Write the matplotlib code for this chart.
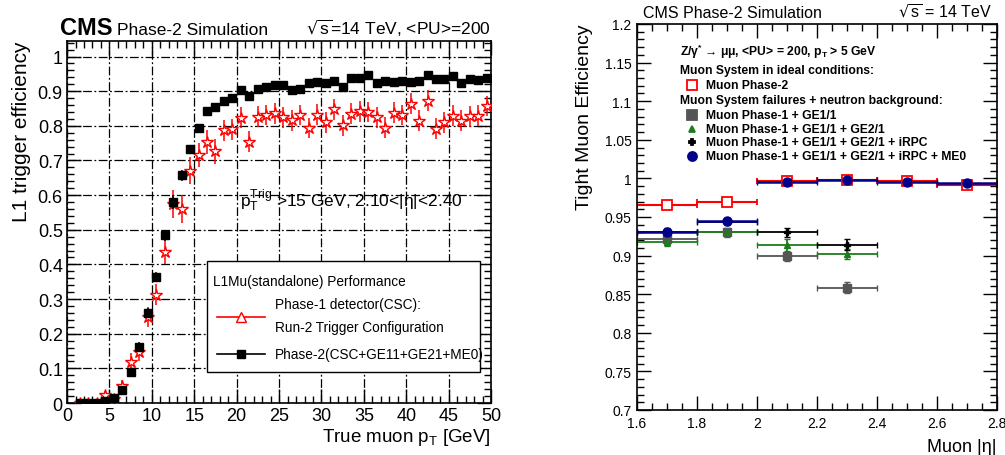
import matplotlib
matplotlib.use("Agg")
import matplotlib.pyplot as plt
import numpy as np
from matplotlib.ticker import MultipleLocator, FuncFormatter
from matplotlib.patches import Rectangle
from matplotlib.lines import Line2D

plt.rcParams['font.family'] = ['Liberation Sans', 'DejaVu Sans']
plt.rcParams['mathtext.default'] = 'regular'

# left panel: L1 trigger efficiency vs true muon pT (1 GeV bins)
pt = np.arange(1.5, 50, 1.0)
phase2_eff = [0.0, 0.0, 0.0, 0.005, 0.015, 0.037, 0.09, 0.163, 0.26, 0.363,
              0.484, 0.58, 0.657, 0.732, 0.794, 0.842, 0.853, 0.873, 0.88, 0.902,
              0.886, 0.906, 0.913, 0.919, 0.919, 0.904, 0.907, 0.925, 0.927, 0.924,
              0.929, 0.911, 0.937, 0.938, 0.948, 0.925, 0.930, 0.927, 0.930, 0.927,
              0.930, 0.946, 0.934, 0.935, 0.943, 0.924, 0.935, 0.933, 0.939]
phase2_err = [0.003, 0.003, 0.003, 0.005, 0.006, 0.008, 0.01, 0.012, 0.015, 0.015,
              0.015, 0.02, 0.015, 0.012, 0.01, 0.01, 0.008, 0.008, 0.008, 0.008,
              0.008, 0.008, 0.008, 0.008, 0.008, 0.008, 0.008, 0.008, 0.008, 0.008,
              0.008, 0.008, 0.008, 0.008, 0.008, 0.008, 0.008, 0.008, 0.008, 0.008,
              0.008, 0.008, 0.008, 0.008, 0.008, 0.008, 0.008, 0.008, 0.008]
run2_eff = [0.0, 0.0, 0.0, 0.022, 0.012, 0.05, 0.118, 0.147, 0.248, 0.313,
            0.436, 0.575, 0.56, 0.671, 0.716, 0.753, 0.726, 0.787, 0.79, 0.824,
            0.754, 0.826, 0.831, 0.836, 0.825, 0.816, 0.831, 0.794, 0.832, 0.81,
            0.848, 0.802, 0.835, 0.842, 0.84, 0.825, 0.795, 0.838, 0.831, 0.864,
            0.815, 0.872, 0.792, 0.81, 0.829, 0.815, 0.828, 0.829, 0.857]
run2_err = [0.003, 0.003, 0.003, 0.012, 0.01, 0.015, 0.025, 0.025, 0.03, 0.03,
            0.035, 0.04, 0.04, 0.04, 0.035, 0.035, 0.035, 0.03, 0.03, 0.03,
            0.03, 0.03, 0.03, 0.03, 0.03, 0.03, 0.03, 0.03, 0.03, 0.03,
            0.03, 0.03, 0.03, 0.03, 0.03, 0.03, 0.03, 0.03, 0.03, 0.03,
            0.03, 0.03, 0.03, 0.03, 0.03, 0.03, 0.03, 0.03, 0.03]

# right panel: tight muon efficiency vs |eta| (0.2 bins)
eta = [1.7, 1.9, 2.1, 2.3, 2.5, 2.7]
eta_half = 0.1
mu_phase2 = [0.9658, 0.969, 0.997, 0.998, 0.996, 0.9915]
mu_phase2_err = [0.002, 0.002, 0.001, 0.001, 0.001, 0.001]
mu_me0 = [0.931, 0.945, 0.9947, 0.998, 0.9947, 0.9934]
mu_me0_err = [0.004, 0.004, 0.002, 0.001, 0.002, 0.002]
mu_irpc = [0.931, 0.944, 0.930, 0.914]
mu_irpc_err = [0.005, 0.005, 0.006, 0.007]
mu_ge21 = [0.918, 0.930, 0.914, 0.902]
mu_ge21_err = [0.005, 0.005, 0.008, 0.007]
mu_ge11 = [0.921, 0.930, 0.899, 0.8586]
mu_ge11_err = [0.006, 0.006, 0.006, 0.007]

fig = plt.figure(figsize=(10.05, 4.56), dpi=100)
ax1 = fig.add_axes([0.0667, 0.114, 0.422, 0.794])
ax2 = fig.add_axes([0.6338, 0.0987, 0.3582, 0.8465])

# ---- left
ax1.set_axisbelow(True)
ax1.grid(True, which='major', color='black', lw=0.9, linestyle=(0, (7, 2, 1.5, 2)))
ax1.errorbar(pt, run2_eff, yerr=run2_err, fmt='*', color='red', mfc='white', mec='red',
             ms=9, mew=1.0, elinewidth=1.1, capsize=0, zorder=3)
ax1.errorbar(pt, phase2_eff, yerr=phase2_err, fmt='s', color='black', ms=6,
             elinewidth=1.1, capsize=0, zorder=4)
ax1.set_xlim(0, 50)
ax1.set_ylim(0, 1.045)
ax1.xaxis.set_major_locator(MultipleLocator(5))
ax1.xaxis.set_minor_locator(MultipleLocator(1))
ax1.yaxis.set_major_locator(MultipleLocator(0.1))
ax1.yaxis.set_minor_locator(MultipleLocator(0.02))
ax1.yaxis.set_major_formatter(FuncFormatter(lambda v, p: f'{v:g}'))
ax1.tick_params(which='both', direction='in', top=True, right=True, width=1.0)
ax1.tick_params(which='major', length=10, labelsize=13, pad=3)
ax1.tick_params(which='minor', length=5)
for s in ax1.spines.values():
    s.set_linewidth(1.2)
ax1.set_xlabel('True muon $p_{T}$ [GeV]', loc='right', fontsize=13.5, labelpad=1)
ax1.set_ylabel('L1 trigger efficiency', loc='top', fontsize=15, labelpad=5)
ax1.text(0.408, 0.544, '$p_{T}^{Trig}$ >15 GeV, 2.10<|η|<2.40', transform=ax1.transAxes,
         fontsize=12.5, va='baseline')

ax1.add_patch(Rectangle((0.330, 0.0856), 0.644, 0.306, transform=ax1.transAxes,
                        facecolor='white', edgecolor='black', lw=1.0, zorder=5))
ax1.text(0.344, 0.337, 'L1Mu(standalone) Performance', transform=ax1.transAxes,
         fontsize=9.8, va='center', zorder=6)
ax1.add_line(Line2D([0.354, 0.467], [0.238, 0.238], transform=ax1.transAxes, color='red',
                    lw=1.2, zorder=6))
ax1.add_line(Line2D([0.41], [0.238], transform=ax1.transAxes, marker='^', ms=7, mfc='white',
                    mec='red', zorder=6))
ax1.text(0.491, 0.273, 'Phase-1 detector(CSC):', transform=ax1.transAxes,
         fontsize=9.8, va='center', zorder=6)
ax1.text(0.491, 0.210, 'Run-2 Trigger Configuration', transform=ax1.transAxes,
         fontsize=9.8, va='center', zorder=6)
ax1.add_line(Line2D([0.354, 0.467], [0.135, 0.135], transform=ax1.transAxes, color='black',
                    lw=1.2, zorder=6))
ax1.add_line(Line2D([0.41], [0.135], transform=ax1.transAxes, marker='s', ms=6,
                    color='black', zorder=6))
ax1.text(0.491, 0.135, 'Phase-2(CSC+GE11+GE21+ME0)', transform=ax1.transAxes,
         fontsize=9.8, va='center', zorder=6)

fig.text(0.0597, 0.923, 'CMS', fontsize=17, fontweight='bold', va='baseline')
fig.text(0.1164, 0.923, 'Phase-2 Simulation', fontsize=12.5, va='baseline')
fig.text(0.4886, 0.923, r'$\sqrt{s}$=14 TeV, <PU>=200', fontsize=12.5, va='baseline', ha='right')

# ---- right
gray = '#555555'
green = '#1b7d1b'
navy = '#00008b'
n4 = len(mu_ge11)
ax2.errorbar(eta[:n4], mu_ge11, xerr=eta_half, yerr=mu_ge11_err, fmt='s', color=gray,
             ms=6, elinewidth=1.3, capsize=2)
ax2.errorbar(eta[:n4], mu_ge21, xerr=eta_half, yerr=mu_ge21_err, fmt='^', color=green,
             ms=5, elinewidth=1.3, capsize=2)
ax2.errorbar(eta[:n4], mu_irpc, xerr=eta_half, yerr=mu_irpc_err, fmt='P', color='black',
             ms=5, elinewidth=1.3, capsize=2)
ax2.errorbar(eta, mu_phase2, xerr=eta_half, yerr=mu_phase2_err, fmt='s', color='red',
             mfc='white', mec='red', mew=1.3, ms=7, elinewidth=1.5, capsize=2)
ax2.errorbar(eta, mu_me0, xerr=eta_half, yerr=mu_me0_err, fmt='o', color=navy,
             ms=6.5, elinewidth=1.8, capsize=2)
ax2.set_xlim(1.6, 2.8)
ax2.set_ylim(0.7, 1.2)
ax2.xaxis.set_major_locator(MultipleLocator(0.2))
ax2.xaxis.set_minor_locator(MultipleLocator(0.05))
ax2.yaxis.set_major_locator(MultipleLocator(0.05))
ax2.yaxis.set_minor_locator(MultipleLocator(0.01))
ax2.xaxis.set_major_formatter(FuncFormatter(lambda v, p: f'{v:g}'))
ax2.yaxis.set_major_formatter(FuncFormatter(lambda v, p: f'{v:g}'))
ax2.tick_params(which='both', direction='in', top=True, right=True, width=1.0)
ax2.tick_params(which='major', length=10, labelsize=10, pad=4)
ax2.tick_params(which='minor', length=5)
for s in ax2.spines.values():
    s.set_linewidth(1.2)
ax2.set_xlabel('Muon |η|', loc='right', fontsize=13, labelpad=6)
ax2.set_ylabel('Tight Muon Efficiency', loc='top', fontsize=14, labelpad=8)

lx, mx, tx = 0.119, 0.153, 0.192
fs = 8.7
ax2.text(lx, 0.930, r'Z/$\gamma^{*}$ → μμ, <PU> = 200, $p_{T}$ > 5 GeV', transform=ax2.transAxes,
         fontsize=fs, fontweight='bold', va='center')
ax2.text(lx, 0.881, 'Muon System in ideal conditions:', transform=ax2.transAxes,
         fontsize=fs, fontweight='bold', va='center')
ax2.text(lx, 0.803, 'Muon System failures + neutron background:', transform=ax2.transAxes,
         fontsize=fs, fontweight='bold', va='center')
entries = [(0.842, 's', 'white', 'red', 7, 'Muon Phase-2'),
           (0.764, 's', gray, gray, 7, 'Muon Phase-1 + GE1/1'),
           (0.728, '^', green, green, 5, 'Muon Phase-1 + GE1/1 + GE2/1'),
           (0.694, 'P', 'black', 'black', 5, 'Muon Phase-1 + GE1/1 + GE2/1 + iRPC'),
           (0.658, 'o', navy, navy, 6.5, 'Muon Phase-1 + GE1/1 + GE2/1 + iRPC + ME0')]
for yy, mk, fc, ec, size, lab in entries:
    ax2.add_line(Line2D([mx], [yy], transform=ax2.transAxes, marker=mk, ms=size,
                        mfc=fc, mec=ec, mew=1.3, ls='none'))
    ax2.text(tx, yy, lab, transform=ax2.transAxes, fontsize=fs, fontweight='bold',
             va='center')

fig.text(0.640, 0.961, 'CMS Phase-2 Simulation', fontsize=11.5, va='baseline')
fig.text(0.987, 0.961, r'$\sqrt{s}$ = 14 TeV', fontsize=11.5, va='baseline', ha='right')

fig.savefig('out.png', dpi=100)
